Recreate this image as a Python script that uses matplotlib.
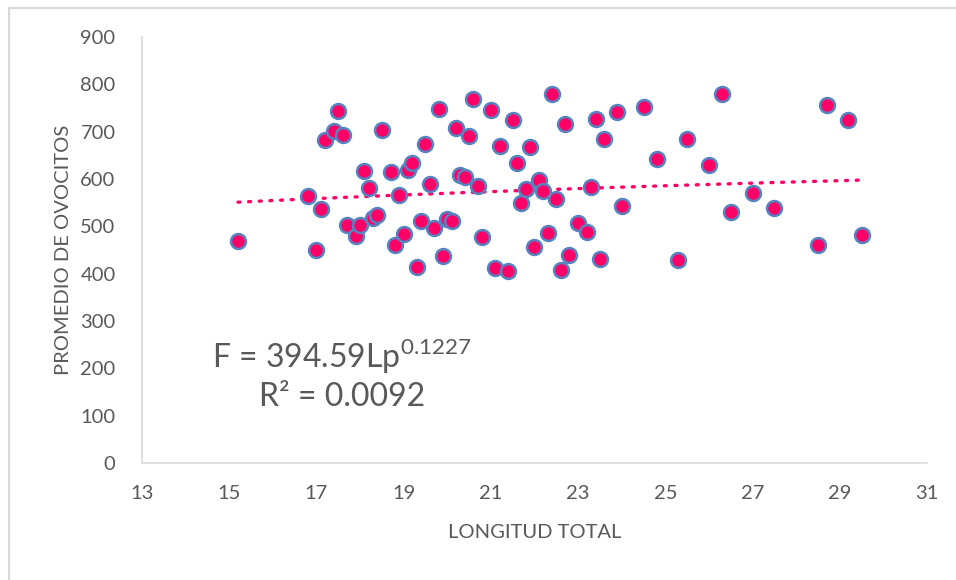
import numpy as np
import matplotlib.pyplot as plt
from matplotlib.lines import Line2D

# longitud total (cm) vs promedio de ovocitos
longitud = [15.2, 16.8, 17.0, 17.1, 17.2, 17.4, 17.5, 17.6, 17.7, 17.9,
            18.0, 18.1, 18.2, 18.3, 18.4, 18.5, 18.7, 18.8, 18.9, 19.0,
            19.1, 19.2, 19.3, 19.4, 19.5, 19.6, 19.7, 19.8, 19.9, 20.0,
            20.1, 20.2, 20.3, 20.4, 20.5, 20.6, 20.7, 20.8, 21.0, 21.1,
            21.2, 21.4, 21.5, 21.6, 21.7, 21.8, 21.9, 22.0, 22.1, 22.2,
            22.3, 22.4, 22.5, 22.6, 22.7, 22.8, 23.0, 23.2, 23.3, 23.4,
            23.5, 23.6, 23.9, 24.0, 24.5, 24.8, 25.3, 25.5, 26.0, 26.3,
            26.5, 27.0, 27.5, 28.5, 28.7, 29.2, 29.5]
ovocitos = [470, 565, 451, 537, 682, 702, 744, 692, 503, 480,
            503, 617, 582, 517, 524, 704, 615, 461, 566, 483,
            618, 633, 415, 511, 675, 589, 497, 747, 437, 515,
            512, 707, 608, 604, 690, 769, 585, 477, 746, 411,
            670, 406, 725, 634, 550, 579, 668, 456, 598, 575,
            485, 779, 558, 407, 717, 440, 507, 488, 584, 727,
            432, 685, 742, 544, 753, 642, 429, 685, 629, 780,
            530, 571, 539, 461, 756, 725, 482]

# power trendline shown on the chart: F = a * Lp^b
coef_a = 394.59
coef_b = 0.1227
r2 = 0.0092

x_ticks = [13, 15, 17, 19, 21, 23, 25, 27, 29, 31]
y_ticks = [0, 100, 200, 300, 400, 500, 600, 700, 800, 900]

plt.rcParams['font.family'] = ['Lato', 'DejaVu Sans']
plt.rcParams['mathtext.fontset'] = 'custom'
plt.rcParams['mathtext.rm'] = 'Lato'

txt = '#595959'
axis_col = '#d9d9d9'

fig = plt.figure(figsize=(9.56, 5.8), dpi=100)
ax = fig.add_axes([142/956, 1-463/580, (927-142)/956, (463-37)/580])

xs = np.array(longitud)
xfit = np.linspace(xs.min(), xs.max(), 100)
ax.plot(xfit, coef_a * xfit ** coef_b, color='#ff0066', lw=2.4,
        linestyle=(0, (0.6, 2.6)), dash_capstyle='round', zorder=2)

ax.scatter(longitud, ovocitos, s=115, c='#ff0066', edgecolors='#5584c0',
           linewidths=1.8, zorder=3)

ax.set_xlim(13, 31)
ax.set_ylim(0, 900)
ax.set_xticks(x_ticks)
ax.set_yticks(y_ticks)
ax.tick_params(length=0, labelsize=14.5, colors=txt)
ax.tick_params(axis='x', pad=16)
ax.tick_params(axis='y', pad=19)
for side in ('top', 'right'):
    ax.spines[side].set_visible(False)
for side in ('left', 'bottom'):
    ax.spines[side].set_color(axis_col)
    ax.spines[side].set_linewidth(1.2)

ax.set_xlabel('LONGITUD TOTAL', fontsize=14.5, color=txt, labelpad=16)
ax.set_ylabel('PROMEDIO DE OVOCITOS', fontsize=14.5, color=txt, labelpad=6)

fig.text(342/956, 1-356/580, 'F = 394.59Lp$^{0.1227}$', fontsize=23,
         color=txt, ha='center', va='center')
fig.text(342/956, 1-397/580, 'R² = %.4f' % r2, fontsize=23,
         color=txt, ha='center', va='center')

# chart area frame (top and left edges visible)
fig.add_artist(Line2D([9/956, 1], [1-7.5/580, 1-7.5/580], color=axis_col, lw=1.5))
fig.add_artist(Line2D([9/956, 9/956], [0, 1-7.5/580], color=axis_col, lw=1.5))

fig.savefig('out.png', dpi=100, facecolor='white')
